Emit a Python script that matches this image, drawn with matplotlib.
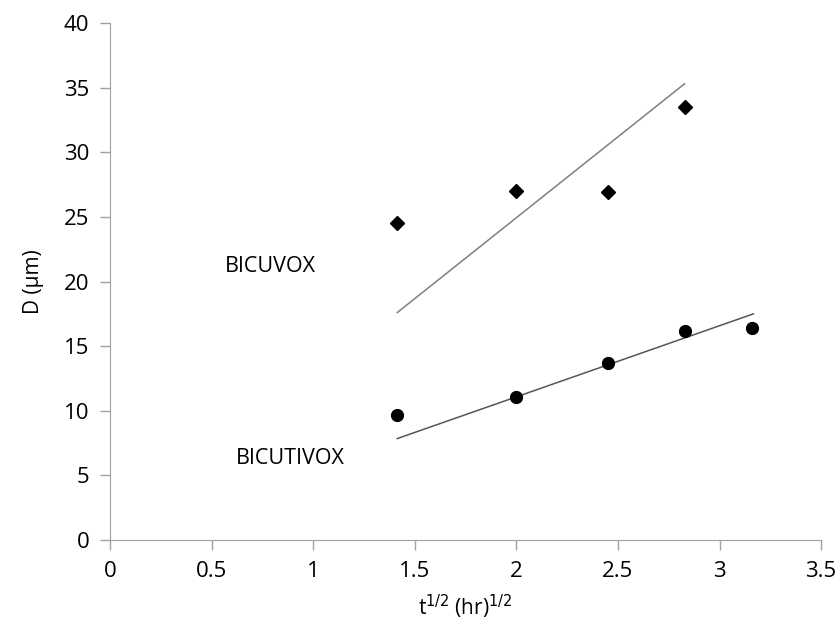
import matplotlib
matplotlib.use("Agg")
import matplotlib.pyplot as plt
import numpy as np

plt.rcParams['font.family'] = ['Open Sans', 'DejaVu Sans']

# BICUVOX data and fit line
bicuvox_x = [1.414, 2.0, 2.449, 2.828]
bicuvox_y = [24.5, 27.0, 26.9, 33.5]
bicuvox_fit_x = [1.414, 2.828]
bicuvox_fit_y = [17.6, 35.3]

# BICUTIVOX data and fit line
bicutivox_x = [1.414, 2.0, 2.449, 2.828, 3.162]
bicutivox_y = [9.65, 11.05, 13.7, 16.2, 16.4]
bicutivox_fit_x = [1.414, 3.167]
bicutivox_fit_y = [7.85, 17.5]

xticks = [0, 0.5, 1, 1.5, 2, 2.5, 3, 3.5]
xticklabels = ['0', '0.5', '1', '1.5', '2', '2.5', '3', '3.5']
yticks = [0, 5, 10, 15, 20, 25, 30, 35, 40]

fig = plt.figure(figsize=(8.37, 6.23), dpi=100)
ax = fig.add_axes([0.1314, 0.1332, 0.981 - 0.1314, 0.963 - 0.1332])

ax.plot(bicuvox_fit_x, bicuvox_fit_y, color='#7f7f7f', lw=1.1)
ax.plot(bicutivox_fit_x, bicutivox_fit_y, color='#555555', lw=1.1)
ax.plot(bicuvox_x, bicuvox_y, 'D', color='black', ms=7, ls='none')
ax.plot(bicutivox_x, bicutivox_y, 'o', color='black', ms=8.5, ls='none')

ax.text(0.79, 21.2, 'BICUVOX', fontsize=15.5, ha='center', va='center')
ax.text(0.886, 6.34, 'BICUTIVOX', fontsize=15.5, ha='center', va='center')

ax.set_xlim(0, 3.5)
ax.set_ylim(0, 40)
ax.set_xticks(xticks)
ax.set_xticklabels(xticklabels)
ax.set_yticks(yticks)
ax.tick_params(labelsize=16, color='#a0a0a0', length=7, width=1, pad=8)
for s in ['top', 'right']:
    ax.spines[s].set_visible(False)
for s in ['left', 'bottom']:
    ax.spines[s].set_color('#a0a0a0')

ax.set_xlabel('t$^{1/2}$ (hr)$^{1/2}$', fontsize=15, labelpad=8)
ax.set_ylabel('D (µm)', fontsize=15, labelpad=14)

fig.savefig('out.png', dpi=100)
